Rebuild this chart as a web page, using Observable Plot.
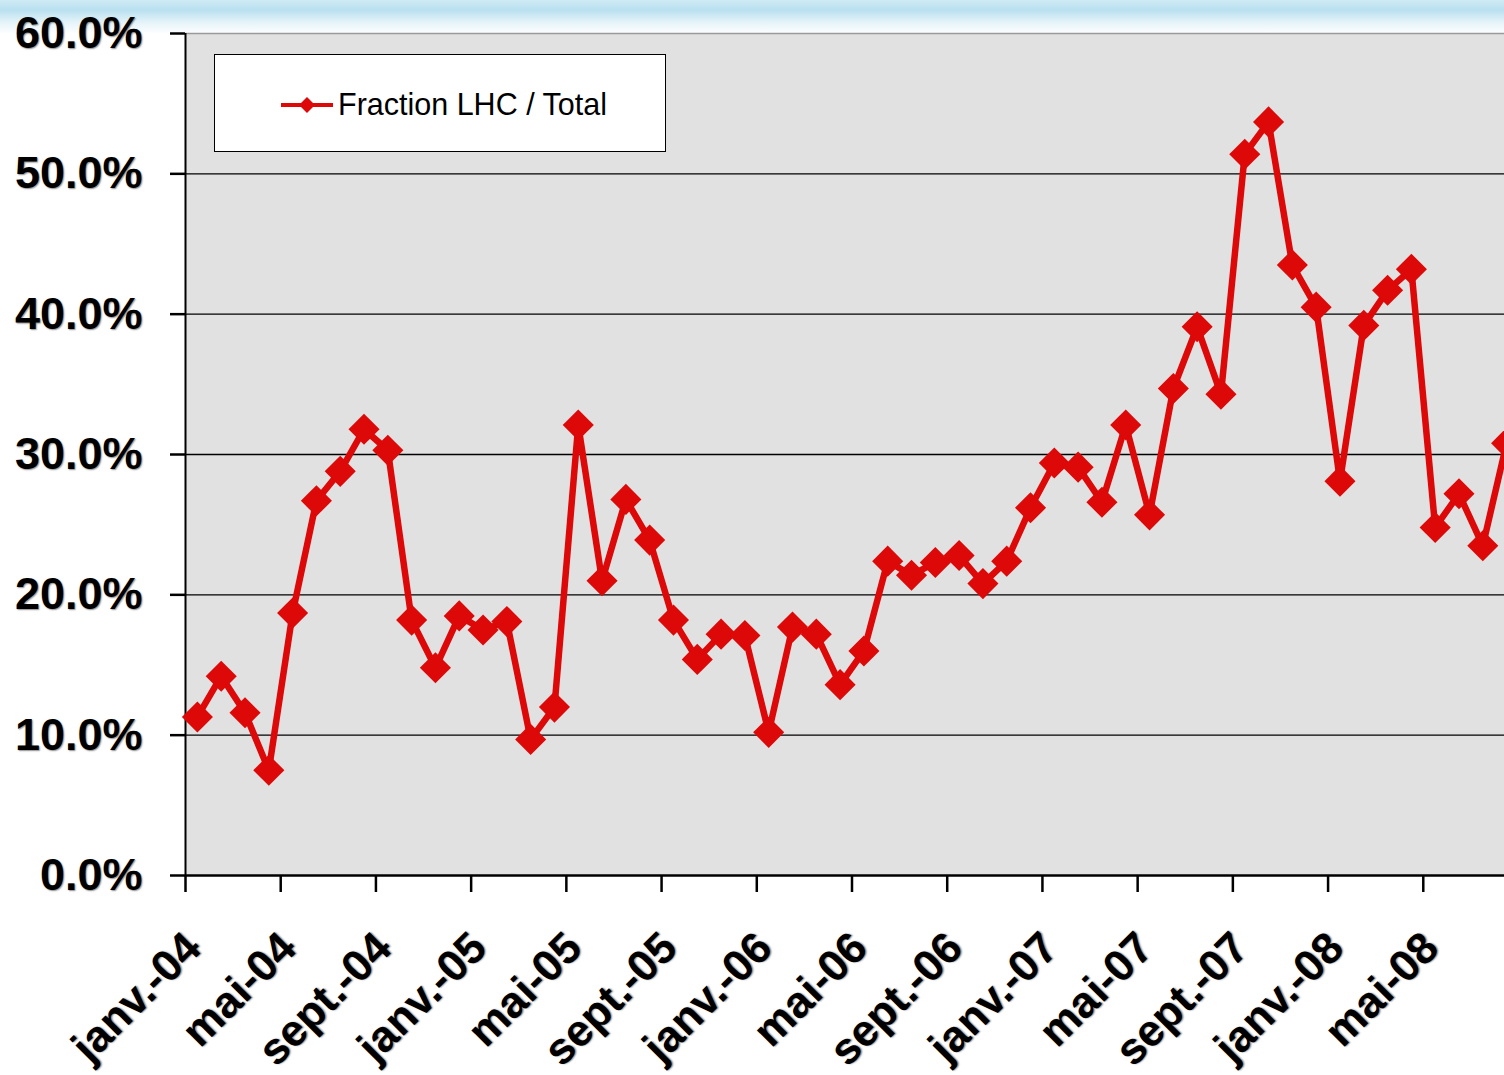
<!DOCTYPE html>
<html>
<head>
<meta charset="utf-8">
<script src="https://cdn.jsdelivr.net/npm/d3@7"></script>
<script src="https://cdn.jsdelivr.net/npm/@observablehq/plot@0.6"></script>
<style>
  html, body { margin: 0; padding: 0; overflow: hidden; }
  body {
    width: 1504px; height: 1075px; position: relative;
    background: linear-gradient(to bottom, #cfeaf5 0px, #b9e0ef 10px, #e4f3f9 22px, #ffffff 34px);
    font-family: "Liberation Sans", Arial, sans-serif;
  }
  #chart { position: absolute; left: 0; top: 0; width: 1520px; }
  #chart svg { max-width: none !important; }
  #chart svg text { text-shadow: 1px 1px 1.5px rgba(0,0,0,0.45); }
  #legend {
    position: absolute; left: 214px; top: 54px; width: 452px; height: 98px;
    background: #fff; border: 1px solid #000; box-sizing: border-box;
  }
</style>
</head>
<body>
<div id="chart"></div>
<div id="legend">
  <svg width="452" height="98">
    <line x1="66" x2="118" y1="50" y2="50" stroke="#dd0808" stroke-width="4"></line>
    <path d="M92,42 L100,50 L92,58 L84,50 Z" fill="#dd0808"></path>
    <text x="123" y="60" font-family="Liberation Sans, Arial, sans-serif" font-size="30.5" fill="#000">Fraction LHC / Total</text>
  </svg>
</div>
<script>
// Month category labels (French Excel format)
const monthNames = ["janv.", "févr.", "mars", "avr.", "mai", "juin", "juil.", "août", "sept.", "oct.", "nov.", "déc."];
const years = ["04", "05", "06", "07", "08"];

// Fraction LHC / Total, in percent, janv.-04 .. août-08
const fractionLHC = [
  11.3, 14.2, 11.6, 7.5, 18.7, 26.7, 28.8, 31.8, 30.3, 18.2, 14.8, 18.5,
  17.5, 18.1, 9.7, 12.0, 32.1, 21.0, 26.8, 23.9, 18.2, 15.4, 17.2, 17.1,
  10.2, 17.7, 17.2, 13.6, 16.0, 22.4, 21.4, 22.3, 22.8, 20.8, 22.4, 26.2,
  29.4, 29.1, 26.6, 32.1, 25.7, 34.7, 39.1, 34.3, 51.4, 53.7, 43.5, 40.5,
  28.1, 39.2, 41.7, 43.2, 24.8, 27.2, 23.5, 30.8
];

// Shown x tick labels (every 4 months)
const xTickLabels = ["janv.-04", "mai-04", "sept.-04", "janv.-05", "mai-05", "sept.-05",
  "janv.-06", "mai-06", "sept.-06", "janv.-07", "mai-07", "sept.-07", "janv.-08", "mai-08"];

const yTicks = [0, 10, 20, 30, 40, 50, 60];
const gridValues = [10, 20, 30, 40, 50];

const months = [];
for (const y of years) for (const m of monthNames) months.push(m + "-" + y);
const nMonths = fractionLHC.length;
const data = fractionLHC.map((v, i) => ({i, month: months[i], v}));
const labelData = xTickLabels.map(t => ({i: months.indexOf(t), t}));
const boundaryTicks = labelData.map(d => d.i - 0.5);

const red = "#dd0808";

const chart = Plot.plot({
  width: 1520,
  height: 1075,
  marginLeft: 185,
  marginRight: 2,
  marginTop: 33,
  marginBottom: 200,
  style: {background: "transparent", fontFamily: "Liberation Sans, Arial, sans-serif", color: "#000", overflow: "visible", maxWidth: "none"},
  x: {type: "linear", domain: [-0.5, nMonths - 0.5]},
  y: {domain: [0, 60]},
  marks: [
    Plot.frame({fill: "#e1e1e1", stroke: null}),
    Plot.ruleY([60], {stroke: "#9a9a9a", strokeWidth: 1.5}),
    Plot.ruleY(gridValues, {stroke: "#000", strokeWidth: 1.4}),
    Plot.axisY({
      ticks: yTicks, tickSize: 15, tickPadding: 28, strokeWidth: 2.5,
      tickFormat: d => d.toFixed(1) + "%", fontSize: 45, fontWeight: "bold", label: null
    }),
    Plot.axisX({
      ticks: boundaryTicks, tickSize: 17, strokeWidth: 2.5, tickFormat: () => "", label: null
    }),
    Plot.ruleX([-0.5], {stroke: "#000", strokeWidth: 2}),
    Plot.ruleY([0], {stroke: "#000", strokeWidth: 2.5}),
    Plot.text(labelData, {
      x: "i", y: () => 0, text: "t", rotate: -45, textAnchor: "end", lineAnchor: "middle",
      dx: -4, dy: 65, fontSize: 44, fontWeight: "bold", fill: "#000"
    }),
    Plot.line(data, {x: "i", y: "v", stroke: red, strokeWidth: 6.5, strokeLinejoin: "round"}),
    Plot.dot(data, {x: "i", y: "v", symbol: "diamond2", r: 14, fill: red, stroke: null})
  ]
});
document.getElementById("chart").appendChild(chart);
</script>
</body>
</html>
